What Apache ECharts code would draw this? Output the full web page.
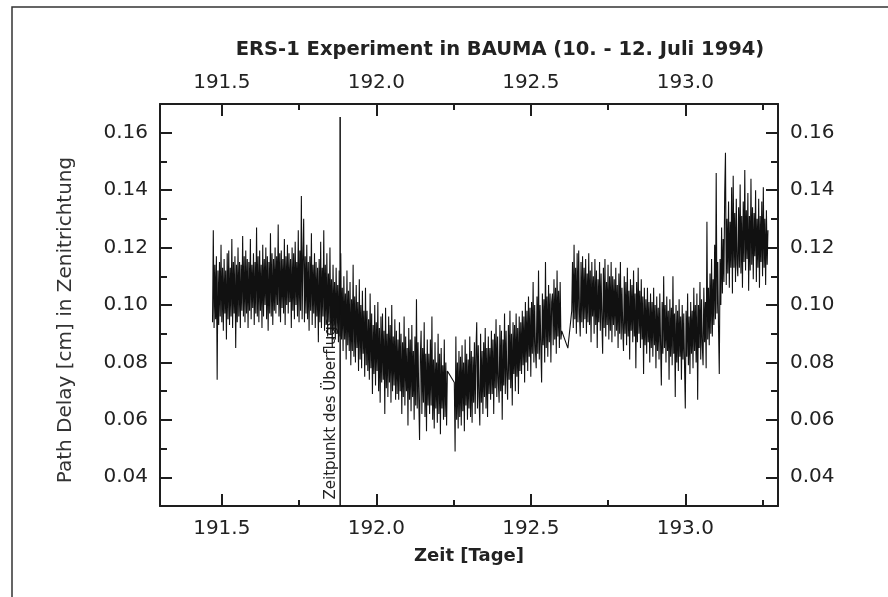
<!DOCTYPE html>
<html>
<head>
<meta charset="utf-8">
<script src="https://cdn.jsdelivr.net/npm/echarts@6/dist/echarts.min.js"></script>
<style>
  html, body { margin: 0; padding: 0; background: #fff; }
  #chart { width: 888px; height: 597px; }
</style>
</head>
<body>
<div id="chart"></div>
<script>
// Zeitachse: Beginn und Abtastschritt (Tage)
const tStart = 191.47
const tStep = 0.0025

// Path Delay Werte, je Block 0.1 Tage; null = Datenlücke
const delay = [
  // 191.47
  0.094, 0.126, 0.092, 0.114, 0.095, 0.117, 0.074, 0.112, 0.093, 0.115, 0.096, 0.121, 0.094, 0.113, 0.091, 0.116, 0.097, 0.112, 0.088, 0.118,
  0.095, 0.119, 0.093, 0.113, 0.096, 0.123, 0.092, 0.115, 0.097, 0.117, 0.085, 0.114, 0.094, 0.120, 0.096, 0.115, 0.092, 0.114, 0.098, 0.124,
  // 191.57
  0.096, 0.117, 0.094, 0.119, 0.097, 0.116, 0.092, 0.115, 0.098, 0.123, 0.095, 0.114, 0.099, 0.118, 0.093, 0.115, 0.097, 0.127, 0.096, 0.117,
  0.094, 0.119, 0.098, 0.114, 0.092, 0.121, 0.096, 0.116, 0.100, 0.120, 0.095, 0.117, 0.091, 0.115, 0.097, 0.125, 0.096, 0.118, 0.093, 0.116,
  // 191.67
  0.098, 0.120, 0.097, 0.117, 0.100, 0.128, 0.096, 0.118, 0.094, 0.119, 0.099, 0.116, 0.097, 0.123, 0.093, 0.117, 0.100, 0.121, 0.097, 0.118,
  0.101, 0.116, 0.092, 0.120, 0.098, 0.118, 0.095, 0.122, 0.100, 0.115, 0.096, 0.126, 0.094, 0.119, 0.098, 0.138, 0.095, 0.117, 0.130, 0.094,
  // 191.77
  0.117, 0.097, 0.121, 0.095, 0.115, 0.091, 0.117, 0.098, 0.125, 0.093, 0.114, 0.097, 0.118, 0.092, 0.115, 0.096, 0.113, 0.087, 0.116, 0.094,
  0.122, 0.092, 0.113, 0.096, 0.126, 0.091, 0.114, 0.093, 0.118, 0.089, 0.111, 0.094, 0.120, 0.090, 0.109, 0.085, 0.114, 0.091, 0.108, 0.088,
  // 191.87
  0.113, 0.090, 0.107, 0.087, 0.112, 0.089, 0.118, 0.088, 0.106, 0.084, 0.110, 0.088, 0.104, 0.081, 0.112, 0.086, 0.105, 0.084, 0.108, 0.079,
  0.102, 0.084, 0.114, 0.082, 0.103, 0.080, 0.107, 0.085, 0.101, 0.077, 0.109, 0.081, 0.100, 0.078, 0.105, 0.083, 0.098, 0.075, 0.106, 0.079,
  // 191.97
  0.098, 0.077, 0.095, 0.074, 0.104, 0.078, 0.097, 0.069, 0.093, 0.076, 0.100, 0.072, 0.094, 0.077, 0.101, 0.070, 0.092, 0.066, 0.096, 0.073,
  0.097, 0.074, 0.091, 0.062, 0.099, 0.071, 0.090, 0.068, 0.096, 0.073, 0.093, 0.066, 0.100, 0.070, 0.089, 0.072, 0.095, 0.067, 0.091, 0.069,
  // 192.07
  0.088, 0.067, 0.094, 0.070, 0.090, 0.062, 0.087, 0.068, 0.096, 0.065, 0.089, 0.070, 0.085, 0.058, 0.092, 0.067, 0.088, 0.063, 0.093, 0.068,
  0.084, 0.060, 0.089, 0.065, 0.102, 0.064, 0.087, 0.067, 0.053, 0.082, 0.091, 0.062, 0.085, 0.066, 0.094, 0.061, 0.083, 0.056, 0.088, 0.065,
  // 192.17
  0.083, 0.062, 0.088, 0.065, 0.096, 0.060, 0.081, 0.057, 0.087, 0.064, 0.080, 0.059, 0.090, 0.062, 0.083, 0.055, 0.085, 0.064, 0.079, 0.060,
  0.088, 0.061, 0.080, 0.058, 0.077, null, null, null, null, null, null, null, null, 0.073, 0.049, 0.089, 0.060, 0.080, 0.057, 0.084,
  // 192.27
  0.061, 0.082, 0.058, 0.086, 0.063, 0.080, 0.056, 0.088, 0.065, 0.083, 0.060, 0.081, 0.064, 0.089, 0.061, 0.084, 0.059, 0.082, 0.066, 0.087,
  0.062, 0.084, 0.094, 0.064, 0.086, 0.068, 0.058, 0.090, 0.066, 0.084, 0.062, 0.087, 0.068, 0.092, 0.064, 0.085, 0.061, 0.089, 0.069, 0.085,
  // 192.37
  0.067, 0.091, 0.069, 0.088, 0.062, 0.090, 0.071, 0.095, 0.068, 0.089, 0.073, 0.066, 0.093, 0.070, 0.091, 0.060, 0.088, 0.072, 0.097, 0.069,
  0.091, 0.075, 0.067, 0.093, 0.074, 0.098, 0.071, 0.090, 0.065, 0.094, 0.076, 0.093, 0.070, 0.097, 0.075, 0.092, 0.069, 0.096, 0.077, 0.094,
  // 192.47
  0.076, 0.098, 0.079, 0.096, 0.073, 0.101, 0.080, 0.098, 0.077, 0.103, 0.082, 0.099, 0.075, 0.101, 0.083, 0.108, 0.080, 0.100, 0.084, 0.078,
  0.103, 0.083, 0.112, 0.081, 0.100, 0.085, 0.073, 0.104, 0.086, 0.102, 0.080, 0.115, 0.085, 0.103, 0.082, 0.107, 0.087, 0.104, 0.080, 0.101,
  // 192.57
  0.104, 0.086, 0.109, 0.088, 0.106, 0.083, 0.112, 0.089, 0.105, 0.085, 0.108, 0.088, 0.091, null, null, null, null, null, null, null,
  0.085, null, null, null, null, 0.098, 0.115, 0.092, 0.121, 0.095, 0.113, 0.090, 0.118, 0.094, 0.119, 0.097, 0.089, 0.115, 0.094, 0.117,
  // 192.67
  0.092, 0.113, 0.095, 0.116, 0.090, 0.111, 0.094, 0.118, 0.093, 0.112, 0.087, 0.115, 0.096, 0.110, 0.090, 0.116, 0.093, 0.112, 0.085, 0.109,
  0.094, 0.115, 0.091, 0.111, 0.095, 0.083, 0.113, 0.092, 0.116, 0.089, 0.108, 0.093, 0.114, 0.088, 0.110, 0.091, 0.115, 0.087, 0.110, 0.093,
  // 192.77
  0.109, 0.089, 0.113, 0.091, 0.107, 0.085, 0.111, 0.090, 0.115, 0.088, 0.106, 0.092, 0.084, 0.110, 0.090, 0.108, 0.086, 0.113, 0.089, 0.105,
  0.081, 0.109, 0.091, 0.107, 0.087, 0.112, 0.089, 0.104, 0.078, 0.108, 0.087, 0.113, 0.090, 0.105, 0.085, 0.109, 0.088, 0.103, 0.076, 0.106,
  // 192.87
  0.086, 0.102, 0.083, 0.106, 0.087, 0.101, 0.080, 0.104, 0.085, 0.101, 0.082, 0.106, 0.086, 0.100, 0.078, 0.103, 0.084, 0.099, 0.081, 0.104,
  0.086, 0.072, 0.101, 0.083, 0.110, 0.085, 0.100, 0.080, 0.103, 0.084, 0.098, 0.074, 0.102, 0.082, 0.099, 0.079, 0.110, 0.083, 0.097, 0.068,
  // 192.97
  0.100, 0.080, 0.098, 0.077, 0.102, 0.082, 0.096, 0.074, 0.100, 0.081, 0.097, 0.079, 0.064, 0.098, 0.082, 0.104, 0.079, 0.096, 0.076, 0.101,
  0.083, 0.098, 0.078, 0.106, 0.084, 0.100, 0.080, 0.104, 0.067, 0.100, 0.085, 0.108, 0.081, 0.102, 0.086, 0.079, 0.106, 0.087, 0.101, 0.078,
  // 193.07
  0.129, 0.088, 0.106, 0.086, 0.111, 0.090, 0.116, 0.089, 0.109, 0.093, 0.121, 0.095, 0.146, 0.097, 0.115, 0.092, 0.076, 0.116, 0.100, 0.127,
  0.104, 0.123, 0.108, 0.139, 0.153, 0.107, 0.130, 0.111, 0.136, 0.106, 0.129, 0.113, 0.141, 0.104, 0.145, 0.113, 0.132, 0.108, 0.137, 0.114,
  // 193.17
  0.110, 0.134, 0.113, 0.142, 0.111, 0.131, 0.106, 0.136, 0.115, 0.147, 0.112, 0.133, 0.116, 0.139, 0.105, 0.131, 0.112, 0.144, 0.114, 0.134,
  0.109, 0.132, 0.117, 0.140, 0.108, 0.130, 0.113, 0.137, 0.106, 0.131, 0.115, 0.136, 0.110, 0.141, 0.113, 0.130, 0.107, 0.133, 0.114, 0.126
]

// Achsen
const xMajor = [191.5, 192.0, 192.5, 193.0]
const xMinor = [191.75, 192.25, 192.75, 193.25]
const yMajor = [0.04, 0.06, 0.08, 0.10, 0.12, 0.14, 0.16]
const yMinor = [0.05, 0.07, 0.09, 0.11, 0.13, 0.15]

// Zeitpunkt des Überflugs
const passTime = 191.883
const passLine = [[passTime, 0.03], [passTime, 0.1655]]

const ink = '#1e1e1e'
const font = '"DejaVu Sans", Verdana, sans-serif'

const seriesData = delay.map((v, i) => [+(tStart + i * tStep).toFixed(4), v === null ? '-' : v])

const xAxisDef = (pos, ticks, len, labels) => ({
  type: 'value',
  position: pos,
  min: 191.3,
  max: 193.3,
  axisLine: { show: labels, lineStyle: { color: ink, width: 2 } },
  axisTick: { show: true, inside: true, length: len, customValues: ticks, lineStyle: { color: ink, width: 2 } },
  axisLabel: {
    show: labels,
    customValues: ticks,
    formatter: v => v.toFixed(1),
    color: '#222',
    fontSize: 20,
    fontFamily: font,
    margin: pos === 'top' ? 11 : 13
  },
  splitLine: { show: false }
})

const yAxisDef = (pos, ticks, len, labels) => ({
  type: 'value',
  position: pos,
  min: 0.03,
  max: 0.17,
  axisLine: { show: labels, lineStyle: { color: ink, width: 2 } },
  axisTick: { show: true, inside: true, length: len, customValues: ticks, lineStyle: { color: ink, width: 2 } },
  axisLabel: {
    show: labels,
    customValues: ticks,
    formatter: v => v.toFixed(2),
    color: '#222',
    fontSize: 20,
    fontFamily: font,
    margin: 12
  },
  splitLine: { show: false }
})

const chart = echarts.init(document.getElementById('chart'))

const bottomMajor = xAxisDef('bottom', xMajor, 12, true)
bottomMajor.name = 'Zeit [Tage]'
bottomMajor.nameLocation = 'middle'
bottomMajor.nameGap = 41
bottomMajor.nameTextStyle = { fontSize: 18, fontWeight: 'bold', color: '#222', fontFamily: font }

const option = {
  animation: false,
  backgroundColor: '#fff',
  grid: { left: 160, right: 110, top: 104, bottom: 91 },
  xAxis: [
    bottomMajor,
    xAxisDef('bottom', xMinor, 6, false),
    xAxisDef('top', xMajor, 12, true),
    xAxisDef('top', xMinor, 6, false)
  ],
  yAxis: [
    yAxisDef('left', yMajor, 12, true),
    yAxisDef('left', yMinor, 7, false),
    yAxisDef('right', yMajor, 12, true),
    yAxisDef('right', yMinor, 7, false)
  ],
  series: [
    {
      name: 'Path Delay',
      type: 'line',
      data: seriesData,
      showSymbol: false,
      connectNulls: true,
      sampling: 'none',
      lineStyle: { color: '#111', width: 1.1 }
    },
    {
      name: 'Überflug',
      type: 'line',
      data: passLine,
      showSymbol: false,
      lineStyle: { color: '#111', width: 1.5 }
    }
  ],
  graphic: [
    {
      type: 'polyline',
      shape: { points: [[12, 597], [12, 7], [888, 7]] },
      style: { stroke: '#333', lineWidth: 1.5, fill: null }
    },
    {
      type: 'text',
      x: 500,
      y: 50,
      style: {
        text: 'ERS-1 Experiment in BAUMA (10. - 12. Juli 1994)',
        font: 'bold 19.5px ' + font,
        fill: '#222',
        align: 'center',
        verticalAlign: 'middle'
      }
    },
    {
      type: 'text',
      x: 66,
      y: 320,
      rotation: Math.PI / 2,
      style: {
        text: 'Path Delay [cm] in Zenitrichtung',
        font: '20px ' + font,
        fill: '#333',
        align: 'center',
        verticalAlign: 'middle'
      }
    },
    {
      type: 'text',
      x: 331,
      y: 409,
      rotation: Math.PI / 2,
      style: {
        text: 'Zeitpunkt des Überflugs',
        font: '15px ' + font,
        fill: '#222',
        align: 'center',
        verticalAlign: 'middle'
      }
    }
  ]
}

chart.setOption(option)
</script>
</body>
</html>
